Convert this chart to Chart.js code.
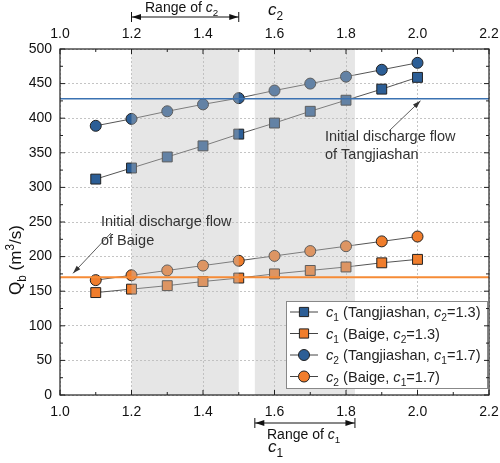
<!DOCTYPE html>
<html>
<head>
<meta charset="utf-8">
<script src="https://cdn.jsdelivr.net/npm/chart.js@4.4.1/dist/chart.umd.min.js"></script>
<style>
body{margin:0;background:#fff}
#wrap{width:500px;height:463px}
</style>
</head>
<body>
<div id="wrap"><canvas id="graph"></canvas></div>
<script>
// coefficient values (c1 on bottom axis, c2 on top axis)
const coefs = [1.1, 1.2, 1.3, 1.4, 1.5, 1.6, 1.7, 1.8, 1.9, 2.0];
// Qb (m3/s)
const tangC1 = [312, 328, 344, 360, 377, 393, 410, 426, 442, 459];
const baigeC1 = [148, 153, 158, 164, 169, 175, 180, 185, 191, 196];
const tangC2 = [389, 399, 410, 420, 429, 440, 450, 460, 470, 480];
const baigeC2 = [166, 173, 180, 187, 194, 201, 208, 215, 222, 229];
// initial discharge flows
const initTang = 428;
const initBaige = 170;
// shaded ranges
const rangeC2 = [1.2, 1.5];
const rangeC1 = [1.545, 1.825];

const FONT = '"Liberation Sans", Arial, sans-serif';
const BLUE = '#2c5e96';
const ORANGE = '#f07d2c';

function pts(ys) {
    return coefs.map(function (c, i) { return {x: c, y: ys[i]}; });
}

function fontFor(p, size) {
    return (p.italic ? 'italic ' : '') + ((p.sub || p.sup) ? size * 0.7 : size) + 'px ' + FONT;
}
function richWidth(ctx, parts, size) {
    let w = 0;
    parts.forEach(function (p) { ctx.font = fontFor(p, size); w += ctx.measureText(p.t).width; });
    return w;
}
function drawRich(ctx, parts, x, y, size, align) {
    if (align === 'center') x -= richWidth(ctx, parts, size) / 2;
    ctx.textAlign = 'left';
    ctx.textBaseline = 'alphabetic';
    parts.forEach(function (p) {
        ctx.font = fontFor(p, size);
        const dy = p.sub ? size * 0.3 : (p.sup ? -size * 0.4 : 0);
        ctx.fillText(p.t, x, y + dy);
        x += ctx.measureText(p.t).width;
    });
}
function arrowHead(ctx, x, y, ang, len, half) {
    ctx.beginPath();
    ctx.moveTo(x, y);
    ctx.lineTo(x - len * Math.cos(ang) + half * Math.sin(ang), y - len * Math.sin(ang) - half * Math.cos(ang));
    ctx.lineTo(x - len * Math.cos(ang) - half * Math.sin(ang), y - len * Math.sin(ang) + half * Math.cos(ang));
    ctx.closePath();
    ctx.fill();
}
function arrowLine(ctx, x1, y1, x2, y2) {
    ctx.beginPath();
    ctx.moveTo(x1, y1);
    ctx.lineTo(x2, y2);
    ctx.stroke();
    arrowHead(ctx, x2, y2, Math.atan2(y2 - y1, x2 - x1), 8, 2.5);
}
function rangeBar(ctx, xa, xb, y) {
    ctx.beginPath();
    ctx.moveTo(xa, y); ctx.lineTo(xb, y);
    ctx.moveTo(xa, y - 5); ctx.lineTo(xa, y + 5);
    ctx.moveTo(xb, y - 5); ctx.lineTo(xb, y + 5);
    ctx.stroke();
    arrowHead(ctx, xa + 0.5, y, Math.PI, 9, 3);
    arrowHead(ctx, xb - 0.5, y, 0, 9, 3);
}

const legendRows = [
    {style: 'rect', color: BLUE, parts: [{t: 'c', italic: true}, {t: '1', sub: true}, {t: ' (Tangjiashan, '}, {t: 'c', italic: true}, {t: '2', sub: true}, {t: '=1.3)'}]},
    {style: 'rect', color: ORANGE, parts: [{t: 'c', italic: true}, {t: '1', sub: true}, {t: ' (Baige, '}, {t: 'c', italic: true}, {t: '2', sub: true}, {t: '=1.3)'}]},
    {style: 'circle', color: BLUE, parts: [{t: 'c', italic: true}, {t: '2', sub: true}, {t: ' (Tangjiashan, '}, {t: 'c', italic: true}, {t: '1', sub: true}, {t: '=1.7)'}]},
    {style: 'circle', color: ORANGE, parts: [{t: 'c', italic: true}, {t: '2', sub: true}, {t: ' (Baige, '}, {t: 'c', italic: true}, {t: '1', sub: true}, {t: '=1.7)'}]}
];

const decor = {
    id: 'decor',
    afterDatasetsDraw: function (chart) {
        const ctx = chart.ctx;
        const a = chart.chartArea;
        const xs = chart.scales.x, x2 = chart.scales.x2, ys = chart.scales.y;
        ctx.save();

        // shaded ranges drawn over the points
        ctx.fillStyle = 'rgba(190,190,190,0.38)';
        [[x2, rangeC2], [xs, rangeC1]].forEach(function (r) {
            const l = r[0].getPixelForValue(r[1][0]), rr = r[0].getPixelForValue(r[1][1]);
            ctx.fillRect(l, a.top, rr - l, a.bottom - a.top);
        });

        // initial discharge lines
        ctx.lineWidth = 1.6;
        ctx.strokeStyle = '#3b72b2';
        let yy = ys.getPixelForValue(initTang);
        ctx.beginPath(); ctx.moveTo(a.left, yy); ctx.lineTo(a.right, yy); ctx.stroke();
        ctx.lineWidth = 2;
        ctx.strokeStyle = '#f68b36';
        yy = ys.getPixelForValue(initBaige);
        ctx.beginPath(); ctx.moveTo(a.left, yy); ctx.lineTo(a.right, yy); ctx.stroke();

        // annotations
        ctx.fillStyle = '#333';
        ctx.strokeStyle = '#333';
        ctx.lineWidth = 0.8;
        ctx.font = '14.5px ' + FONT;
        ctx.textAlign = 'left';
        ctx.textBaseline = 'middle';
        ctx.fillText('Initial discharge flow', 325, 137);
        ctx.fillText('of Tangjiashan', 325, 155);
        arrowLine(ctx, 389, 131, xs.getPixelForValue(2.0) + 3, ys.getPixelForValue(initTang) + 2);
        ctx.fillText('Initial discharge flow', 101, 222);
        ctx.fillText('of Baige', 101, 241);
        arrowLine(ctx, 111, 233, 73, ys.getPixelForValue(initBaige) - 4);

        // legend
        const lx = 286, ly = 301, lw = 201, lh = 87;
        ctx.fillStyle = '#fff';
        ctx.fillRect(lx, ly, lw, lh);
        ctx.strokeStyle = '#888';
        ctx.lineWidth = 1;
        ctx.strokeRect(lx + 0.5, ly + 0.5, lw, lh);
        legendRows.forEach(function (row, i) {
            const cy = 312 + i * 21.5;
            ctx.strokeStyle = '#444';
            ctx.lineWidth = 1;
            ctx.beginPath(); ctx.moveTo(290, cy); ctx.lineTo(318, cy); ctx.stroke();
            ctx.fillStyle = row.color;
            ctx.strokeStyle = '#222';
            Chart.helpers.drawPoint(ctx, {pointStyle: row.style, radius: row.style === 'rect' ? 6.5 : 5.5, rotation: 0, borderWidth: 1}, 304, cy);
            ctx.fillStyle = '#222';
            drawRich(ctx, row.parts, 326, cy + 5, 14.6);
        });

        // frame
        ctx.strokeStyle = '#222';
        ctx.lineWidth = 1.2;
        ctx.strokeRect(a.left, a.top, a.right - a.left, a.bottom - a.top);

        // inward ticks
        ctx.lineWidth = 1;
        ctx.beginPath();
        for (let i = 10; i <= 22; i++) {
            const px = xs.getPixelForValue(i / 10);
            const len = i % 2 === 0 ? 5 : 3;
            ctx.moveTo(px, a.bottom); ctx.lineTo(px, a.bottom - len);
            ctx.moveTo(px, a.top); ctx.lineTo(px, a.top + len);
        }
        for (let i = 0; i <= 20; i++) {
            const py = ys.getPixelForValue(i * 25);
            const len = i % 2 === 0 ? 5 : 3;
            ctx.moveTo(a.left, py); ctx.lineTo(a.left + len, py);
            ctx.moveTo(a.right, py); ctx.lineTo(a.right - len, py);
        }
        ctx.stroke();

        // range bars and axis titles
        ctx.fillStyle = '#111';
        ctx.strokeStyle = '#111';
        ctx.lineWidth = 1;
        rangeBar(ctx, x2.getPixelForValue(rangeC2[0]), x2.getPixelForValue(rangeC2[1]), 17);
        rangeBar(ctx, xs.getPixelForValue(rangeC1[0]), xs.getPixelForValue(rangeC1[1]), 423);
        drawRich(ctx, [{t: 'Range of '}, {t: 'c', italic: true}, {t: '2', sub: true}], 145, 12, 14);
        drawRich(ctx, [{t: 'Range of '}, {t: 'c', italic: true}, {t: '1', sub: true}], 267, 439, 14);
        drawRich(ctx, [{t: 'c', italic: true}, {t: '2', sub: true}], 268, 15, 17);
        drawRich(ctx, [{t: 'c', italic: true}, {t: '1', sub: true}], 268, 452, 17);

        ctx.translate(21, 260);
        ctx.rotate(-Math.PI / 2);
        drawRich(ctx, [{t: 'Q'}, {t: 'b', sub: true}, {t: ' (m'}, {t: '3', sup: true}, {t: '/s)'}], 0, 0, 17, 'center');
        ctx.restore();
    }
};

function series(label, ys, color, style, axis) {
    return {
        label: label,
        data: pts(ys),
        xAxisID: axis,
        borderColor: '#555',
        borderWidth: 1,
        backgroundColor: color,
        pointBackgroundColor: color,
        pointBorderColor: '#222',
        pointBorderWidth: 1,
        pointStyle: style,
        pointRadius: style === 'rect' ? 7 : 5.5,
        tension: 0
    };
}

// fixed axis sizes so the plot area matches the reference
function fixH(h) {
    return function (s) { s.height = h; s.paddingLeft = 0; s.paddingRight = 0; };
}
function fixW(w) {
    return function (s) { s.width = w; s.paddingTop = 0; s.paddingBottom = 0; };
}

const gridOpts = {color: '#c4c4c4', lineWidth: 1, drawTicks: false};
const tickFont = {family: FONT, size: 14};

new Chart(document.querySelector('#graph'), {
    type: 'line',
    data: {
        datasets: [
            series('c1 (Tangjiashan, c2=1.3)', tangC1, BLUE, 'rect', 'x'),
            series('c1 (Baige, c2=1.3)', baigeC1, ORANGE, 'rect', 'x'),
            series('c2 (Tangjiashan, c1=1.7)', tangC2, BLUE, 'circle', 'x2'),
            series('c2 (Baige, c1=1.7)', baigeC2, ORANGE, 'circle', 'x2')
        ]
    },
    options: {
        responsive: true,
        maintainAspectRatio: false,
        animation: false,
        layout: {padding: 0},
        plugins: {legend: {display: false}, tooltip: {enabled: false}},
        scales: {
            x: {
                type: 'linear', position: 'bottom', min: 1.0, max: 2.2,
                grid: gridOpts,
                border: {display: false, dash: [2, 2]},
                ticks: {stepSize: 0.2, padding: 9, color: '#111', font: tickFont,
                    callback: function (v) { return v.toFixed(1); }},
                afterFit: fixH(68)
            },
            x2: {
                type: 'linear', position: 'top', min: 1.0, max: 2.2,
                grid: {drawOnChartArea: false, drawTicks: false},
                border: {display: false},
                ticks: {stepSize: 0.2, padding: 6, color: '#111', font: tickFont,
                    callback: function (v) { return v.toFixed(1); }},
                afterFit: fixH(49)
            },
            y: {
                type: 'linear', position: 'left', min: 0, max: 500,
                grid: gridOpts,
                border: {display: false, dash: [2, 2]},
                ticks: {stepSize: 50, padding: 8, color: '#111', font: tickFont},
                afterFit: fixW(60)
            },
            y2: {
                type: 'linear', position: 'right', min: 0, max: 500,
                grid: {drawOnChartArea: false, drawTicks: false},
                border: {display: false},
                ticks: {display: false},
                afterFit: fixW(11)
            }
        }
    },
    plugins: [decor]
});
</script>
</body>
</html>
